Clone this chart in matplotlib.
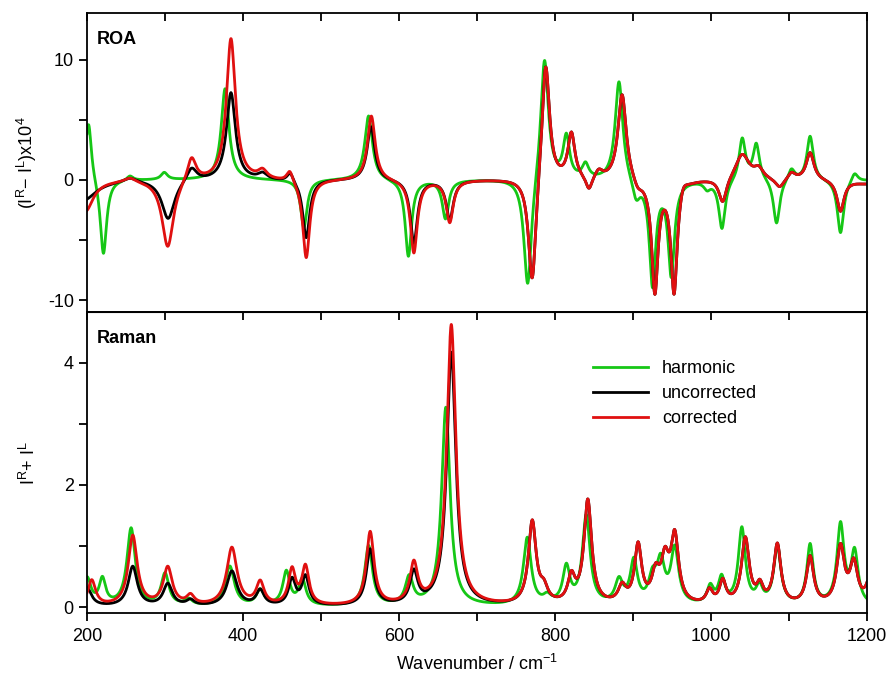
import numpy as np
import matplotlib
matplotlib.use("Agg")
import matplotlib.pyplot as plt
from matplotlib.ticker import MultipleLocator

plt.rcParams['font.family'] = ['Liberation Sans', 'DejaVu Sans']
plt.rcParams['mathtext.default'] = 'regular'
plt.rcParams['axes.unicode_minus'] = False
plt.rcParams['font.size'] = 13

# Band lists: (wavenumber, intensity, half width)
roa_harmonic = [(202, 5.0, 4.5), (221, -6.4, 5), (255, 0.4, 5), (299, 0.6, 5),
                (377, 7.6, 6), (478, -4.0, 5), (561, 5.4, 6), (612, -6.4, 5),
                (659.5, -3.2, 5), (765, -9.4, 6), (786.5, 10.5, 6), (814.5, 3.5, 5),
                (839, 1.2, 5), (882, 8.4, 6), (904, -1.7, 6), (925, -8.7, 5),
                (949, -7.8, 5), (995, -0.6, 5), (1014, -4.1, 5), (1040, 3.5, 5),
                (1058, 3.0, 5), (1084, -3.8, 5), (1103, 1.0, 5), (1127, 3.7, 5),
                (1166, -4.5, 5), (1184, 0.8, 5)]
roa_corrected = [(198, -2.6, 12), (255, 0.4, 9), (303.5, -5.7, 9), (334, 2.1, 7),
                 (384.5, 11.8, 7), (425, 0.7, 7), (460, 1.0, 5), (481, -6.6, 5.5),
                 (564.5, 5.4, 6), (619, -6.1, 5.5), (665, -3.5, 5.5), (770.8, -9.3, 6),
                 (788, 10.3, 6), (821, 3.8, 5.5), (843.5, -1.2, 5), (856, 0.7, 6),
                 (886, 7.3, 6.5), (906, -0.8, 7), (928, -9.3, 5), (952.6, -9.4, 5),
                 (964, 0.8, 6), (1015, -2.1, 6), (1040, 2.2, 11), (1061, 0.8, 7),
                 (1088, -0.8, 7), (1103, 0.6, 6), (1127, 2.3, 6), (1166, -2.6, 5.5),
                 (1200, -0.3, 20)]
roa_uncorrected_low = [(195, -1.7, 20), (255, 0.4, 11), (304, -3.3, 10), (334, 1.2, 8),
                       (384.5, 7.3, 7), (425, 0.5, 7), (460.5, 0.8, 5), (481, -4.9, 5.5),
                       (564, 4.5, 6), (619, -5.3, 5.5), (665, -3.3, 5.5)]

raman_harmonic = [(200, 0.45, 6), (219.7, 0.42, 5), (256.5, 1.27, 6.5), (300, 0.52, 6),
                  (330, 0.1, 6), (383, 0.65, 7), (422, 0.25, 6), (455.5, 0.55, 5.5),
                  (476, 0.42, 5.5), (561, 0.98, 6), (613, 0.45, 6), (660, 3.25, 6.5),
                  (764.4, 1.1, 6), (790, 0.12, 6), (814.5, 0.6, 5.5), (840, 1.45, 6),
                  (882, 0.38, 6), (901, 0.7, 5.5), (925, 0.4, 6), (935.5, 0.65, 6),
                  (953.5, 0.9, 6), (999, 0.28, 5), (1013.5, 0.42, 5), (1039.5, 1.25, 5.5),
                  (1062, 0.27, 5), (1085, 0.95, 5.5), (1127, 0.98, 5), (1166, 1.3, 5.5),
                  (1184, 0.85, 5.5)]
raman_corrected = [(206, 0.42, 6), (258.6, 1.15, 7), (303.5, 0.62, 7), (332.6, 0.15, 6),
                   (385.7, 0.95, 8), (422, 0.37, 6), (462.8, 0.57, 5.5), (480, 0.62, 5.5),
                   (563, 1.2, 6), (619, 0.65, 6), (667, 4.6, 7), (770.8, 1.35, 6),
                   (785.7, 0.22, 6), (821, 0.42, 5.5), (842, 1.7, 6), (886, 0.27, 6),
                   (906.5, 0.95, 5.5), (929, 0.45, 6), (941, 0.65, 6), (953.5, 1.08, 6),
                   (998, 0.22, 5), (1015, 0.37, 5), (1044, 1.08, 6), (1062.6, 0.27, 5),
                   (1085, 0.98, 5.5), (1127, 0.78, 5.5), (1166, 0.93, 6), (1183, 0.65, 6),
                   (1205, 0.5, 6)]
raman_uncorrected_low = [(200, 0.3, 7), (258.6, 0.65, 7), (303.5, 0.36, 7), (332.6, 0.09, 6),
                         (385.7, 0.57, 8), (422, 0.25, 6), (462.8, 0.42, 5.5), (480, 0.47, 5.5),
                         (563, 0.92, 6), (619, 0.52, 6), (667, 4.15, 7)]

# uncorrected coincides with corrected above 700 cm-1
roa_uncorrected = roa_uncorrected_low + [b for b in roa_corrected if b[0] > 700]
raman_uncorrected = raman_uncorrected_low + [b for b in raman_corrected if b[0] > 700]

labels = ['harmonic', 'uncorrected', 'corrected']
colors = ['#16c716', 'black', '#e01010']


def spectrum(x, bands):
    y = np.zeros_like(x)
    for pos, amp, w in bands:
        y += amp / (1 + ((x - pos) / w) ** 2)
    return y


x = np.linspace(200, 1200, 4001)

fig = plt.figure(figsize=(8.9, 6.82), dpi=100)
ax1 = fig.add_axes([0.0978, 0.5425, 0.8764, 0.4385])
ax2 = fig.add_axes([0.0978, 0.101, 0.8764, 0.4415])

for bands, c, lab in zip([roa_harmonic, roa_uncorrected, roa_corrected], colors, labels):
    ax1.plot(x, spectrum(x, bands), color=c, lw=2.0, label=lab)
for bands, c, lab in zip([raman_harmonic, raman_uncorrected, raman_corrected], colors, labels):
    ax2.plot(x, spectrum(x, bands), color=c, lw=2.0, label=lab)

ax1.set_ylim(-11, 13.9)
ax2.set_ylim(-0.1, 4.83)
for ax in (ax1, ax2):
    ax.set_xlim(200, 1200)
    ax.xaxis.set_major_locator(MultipleLocator(200))
    ax.xaxis.set_minor_locator(MultipleLocator(100))
    for s in ax.spines.values():
        s.set_linewidth(1.3)
    ax.tick_params(axis='y', which='both', direction='out', right=False, width=1.3, length=6)

ax1.yaxis.set_major_locator(MultipleLocator(10))
ax1.yaxis.set_minor_locator(MultipleLocator(5))
ax2.yaxis.set_major_locator(MultipleLocator(2))
ax2.yaxis.set_minor_locator(MultipleLocator(1))

ax1.tick_params(axis='x', which='both', top=True, bottom=False, labelbottom=False,
                direction='in', length=6, width=1.3)
ax2.tick_params(axis='x', which='both', direction='out', length=6, width=1.3, pad=5)
sec = ax2.secondary_xaxis('top')
sec.xaxis.set_major_locator(MultipleLocator(100))
sec.tick_params(axis='x', direction='in', length=6, width=1.3, labeltop=False)

ax1.set_ylabel('(I$^{R}$\u2212 I$^{L}$)x10$^{4}$')
ax2.set_ylabel('I$^{R}$+ I$^{L}$')
ax1.yaxis.set_label_coords(-0.062, 0.5)
ax2.yaxis.set_label_coords(-0.062, 0.5)
ax2.set_xlabel('Wavenumber / cm$^{\u22121}$', labelpad=6)

ax1.text(0.013, 0.94, 'ROA', transform=ax1.transAxes, fontweight='bold',
         fontsize=13, va='top')
ax2.text(0.013, 0.94, 'Raman', transform=ax2.transAxes, fontweight='bold',
         fontsize=13, va='top')

ax2.legend(loc='upper left', bbox_to_anchor=(0.64, 0.865), frameon=False,
           handlelength=3.0, handletextpad=0.8, labelspacing=0.45, borderaxespad=0)

fig.savefig('out.png', dpi=100)
